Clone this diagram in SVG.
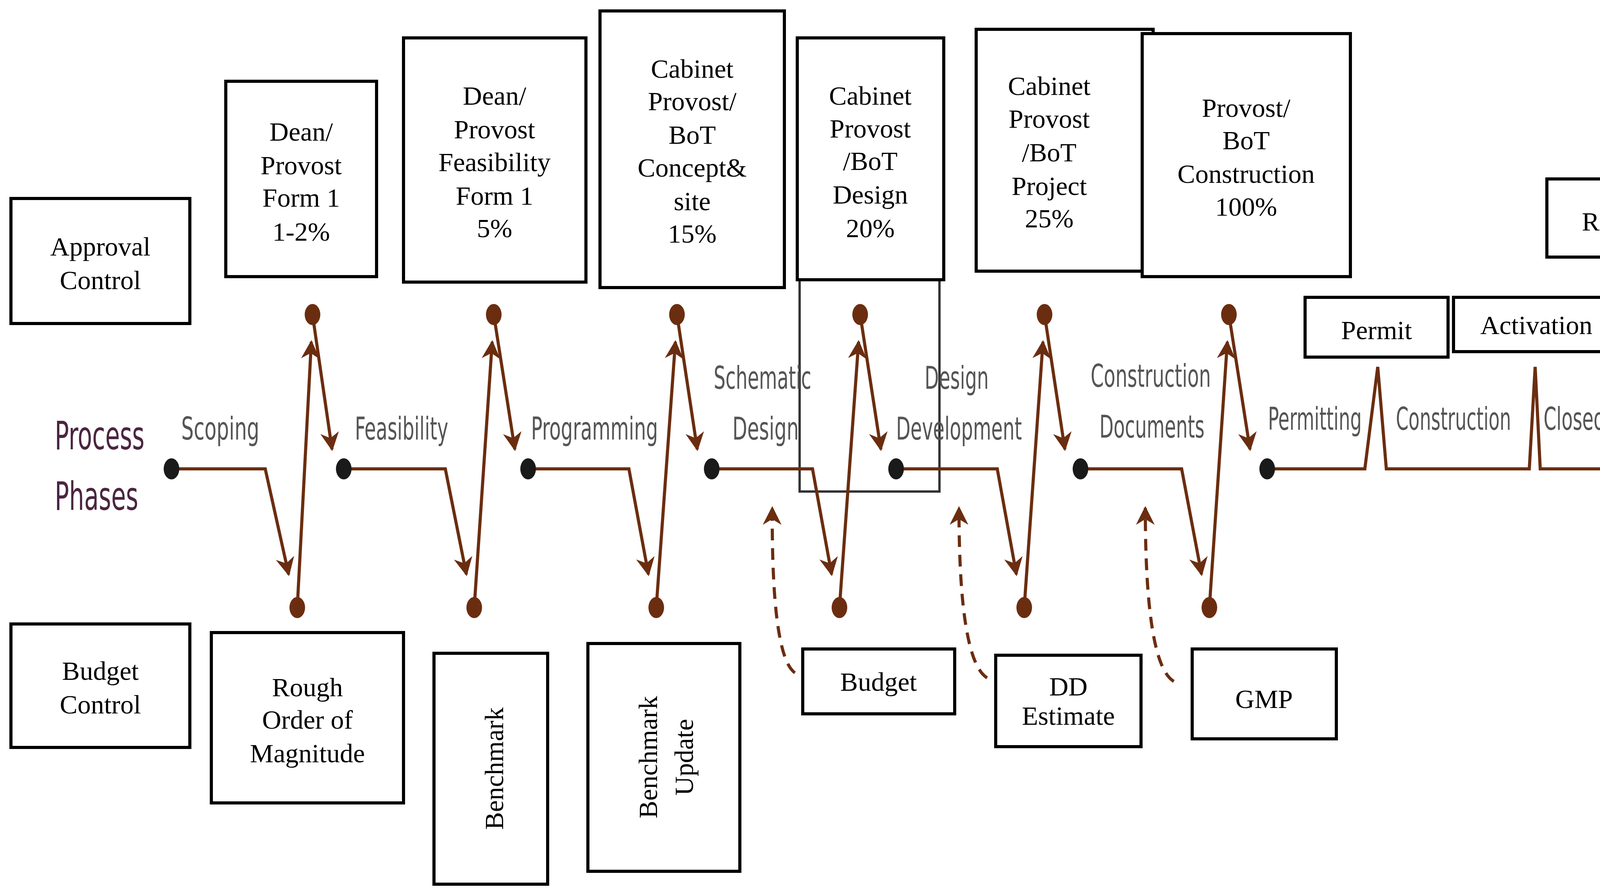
<svg xmlns="http://www.w3.org/2000/svg" width="4344" height="2283" viewBox="0 0 4344 2283">
<style>
.box{fill:#fff;stroke:#000;stroke-width:8}
.t{font-family:"Liberation Serif","DejaVu Serif",serif;font-size:68px;fill:#000;text-anchor:middle}
.ph{font-family:"DejaVu Sans Condensed","Liberation Sans",sans-serif;font-size:80px;fill:#555;text-anchor:middle}
.pp{font-family:"DejaVu Sans Condensed","Liberation Sans",sans-serif;font-size:100px;fill:#4a2540;text-anchor:middle}
.ln{fill:none;stroke:#6b2d10;stroke-width:8}
.ds{fill:none;stroke:#6b2d10;stroke-width:8;stroke-dasharray:30 20}
.bd{fill:#6b2d10}
.bk{fill:#1a1a1a}
</style>
<defs>
<marker id="ah" viewBox="0 0 10 10" refX="9" refY="5" markerWidth="6" markerHeight="6" markerUnits="strokeWidth" orient="auto"><path d="M0,0 L10,5 L0,10 L3,5 Z" fill="#6b2d10"/></marker>
</defs>
<rect width="4344" height="2283" fill="#fff"/>
<g id="connectors">
<rect x="2047" y="716" width="358" height="542" fill="none" stroke="#333" stroke-width="6"/>
<polyline class="ln" points="439,1200 679,1200 739,1470" marker-end="url(#ah)"/>
<line class="ln" x1="761" y1="1555" x2="797" y2="875" marker-end="url(#ah)"/>
<line class="ln" x1="800" y1="805" x2="850" y2="1150" marker-end="url(#ah)"/>
<polyline class="ln" points="880,1200 1140,1200 1194,1470" marker-end="url(#ah)"/>
<line class="ln" x1="1214" y1="1555" x2="1260" y2="875" marker-end="url(#ah)"/>
<line class="ln" x1="1264" y1="805" x2="1318" y2="1150" marker-end="url(#ah)"/>
<polyline class="ln" points="1352,1200 1610,1200 1660,1470" marker-end="url(#ah)"/>
<line class="ln" x1="1680" y1="1555" x2="1729" y2="875" marker-end="url(#ah)"/>
<line class="ln" x1="1733" y1="805" x2="1785" y2="1150" marker-end="url(#ah)"/>
<polyline class="ln" points="1822,1200 2080,1200 2129,1470" marker-end="url(#ah)"/>
<line class="ln" x1="2149" y1="1555" x2="2198" y2="875" marker-end="url(#ah)"/>
<line class="ln" x1="2202" y1="805" x2="2255" y2="1150" marker-end="url(#ah)"/>
<polyline class="ln" points="2294,1200 2553,1200 2602,1470" marker-end="url(#ah)"/>
<line class="ln" x1="2622" y1="1555" x2="2670" y2="875" marker-end="url(#ah)"/>
<line class="ln" x1="2674" y1="805" x2="2726" y2="1150" marker-end="url(#ah)"/>
<polyline class="ln" points="2766,1200 3025,1200 3076,1470" marker-end="url(#ah)"/>
<line class="ln" x1="3096" y1="1555" x2="3142" y2="875" marker-end="url(#ah)"/>
<line class="ln" x1="3146" y1="805" x2="3200" y2="1150" marker-end="url(#ah)"/>
<polyline class="ln" points="3244,1200 3494,1200 3527,939 3549,1200 3915,1200 3930,939 3943,1200 4179,1200 4179,785" marker-end="url(#ah)"/>
<path class="ds" d="M2035,1722 Q1975,1680 1977,1300" marker-end="url(#ah)"/>
<path class="ds" d="M2527,1735 Q2455,1690 2455,1300" marker-end="url(#ah)"/>
<path class="ds" d="M3005,1744 Q2932,1700 2932,1300" marker-end="url(#ah)"/>
<ellipse class="bk" cx="439" cy="1200" rx="20" ry="27"/>
<ellipse class="bk" cx="880" cy="1200" rx="20" ry="27"/>
<ellipse class="bk" cx="1352" cy="1200" rx="20" ry="27"/>
<ellipse class="bk" cx="1822" cy="1200" rx="20" ry="27"/>
<ellipse class="bk" cx="2294" cy="1200" rx="20" ry="27"/>
<ellipse class="bk" cx="2766" cy="1200" rx="20" ry="27"/>
<ellipse class="bk" cx="3244" cy="1200" rx="20" ry="27"/>
<ellipse class="bd" cx="800" cy="805" rx="20" ry="27"/>
<ellipse class="bd" cx="1264" cy="805" rx="20" ry="27"/>
<ellipse class="bd" cx="1733" cy="805" rx="20" ry="27"/>
<ellipse class="bd" cx="2202" cy="805" rx="20" ry="27"/>
<ellipse class="bd" cx="2674" cy="805" rx="20" ry="27"/>
<ellipse class="bd" cx="3146" cy="805" rx="20" ry="27"/>
<ellipse class="bd" cx="761" cy="1555" rx="20" ry="27"/>
<ellipse class="bd" cx="1214" cy="1555" rx="20" ry="27"/>
<ellipse class="bd" cx="1680" cy="1555" rx="20" ry="27"/>
<ellipse class="bd" cx="2149" cy="1555" rx="20" ry="27"/>
<ellipse class="bd" cx="2622" cy="1555" rx="20" ry="27"/>
<ellipse class="bd" cx="3096" cy="1555" rx="20" ry="27"/>
</g>
<g id="phases">
<text class="pp" x="255" y="1150" textLength="230" lengthAdjust="spacingAndGlyphs">Process</text>
<text class="pp" x="247" y="1305" textLength="214" lengthAdjust="spacingAndGlyphs">Phases</text>
<text class="ph" x="564" y="1125" textLength="200" lengthAdjust="spacingAndGlyphs">Scoping</text>
<text class="ph" x="1028" y="1125" textLength="239" lengthAdjust="spacingAndGlyphs">Feasibility</text>
<text class="ph" x="1522" y="1125" textLength="325" lengthAdjust="spacingAndGlyphs">Programming</text>
<text class="ph" x="1952" y="995" textLength="250" lengthAdjust="spacingAndGlyphs">Schematic</text>
<text class="ph" x="1960" y="1125" textLength="170" lengthAdjust="spacingAndGlyphs">Design</text>
<text class="ph" x="2449" y="995" textLength="164" lengthAdjust="spacingAndGlyphs">Design</text>
<text class="ph" x="2455" y="1125" textLength="322" lengthAdjust="spacingAndGlyphs">Development</text>
<text class="ph" x="2946" y="990" textLength="308" lengthAdjust="spacingAndGlyphs">Construction</text>
<text class="ph" x="2949" y="1120" textLength="269" lengthAdjust="spacingAndGlyphs">Documents</text>
<text class="ph" x="3366" y="1100" textLength="240" lengthAdjust="spacingAndGlyphs">Permitting</text>
<text class="ph" x="3721" y="1100" textLength="295" lengthAdjust="spacingAndGlyphs">Construction</text>
<text class="ph" x="4054" y="1100" textLength="205" lengthAdjust="spacingAndGlyphs">Closeout</text>
</g>
<g id="approval"><rect class="box" x="28" y="508" width="458" height="320"/><text class="t" x="257" y="654">Approval</text><text class="t" x="257" y="740">Control</text></g>
<g id="form1"><rect class="box" x="578" y="208" width="386" height="500"/><text class="t" x="771" y="360">Dean/</text><text class="t" x="771" y="446">Provost</text><text class="t" x="771" y="529">Form 1</text><text class="t" x="771" y="616">1-2%</text></g>
<g id="feas"><rect class="box" x="1033" y="97" width="467" height="625"/><text class="t" x="1266" y="268">Dean/</text><text class="t" x="1266" y="354">Provost</text><text class="t" x="1266" y="438">Feasibility</text><text class="t" x="1266" y="524">Form 1</text><text class="t" x="1266" y="607">5%</text></g>
<g id="concept"><rect class="box" x="1536" y="28" width="472" height="708"/><text class="t" x="1772" y="199">Cabinet</text><text class="t" x="1772" y="282">Provost/</text><text class="t" x="1772" y="368">BoT</text><text class="t" x="1772" y="452">Concept&amp;</text><text class="t" x="1772" y="538">site</text><text class="t" x="1772" y="621">15%</text></g>
<g id="design"><rect class="box" x="2041" y="97" width="375" height="619"/><text class="t" x="2228" y="268">Cabinet</text><text class="t" x="2228" y="352">Provost</text><text class="t" x="2228" y="435">/BoT</text><text class="t" x="2228" y="521">Design</text><text class="t" x="2228" y="607">20%</text></g>
<g id="project"><rect class="box" x="2499" y="75" width="453" height="619"/><text class="t" x="2686" y="243">Cabinet</text><text class="t" x="2686" y="327">Provost</text><text class="t" x="2686" y="413">/BoT</text><text class="t" x="2686" y="499">Project</text><text class="t" x="2686" y="582">25%</text></g>
<g id="construction"><rect class="box" x="2924" y="86" width="533" height="622"/><text class="t" x="3190" y="299">Provost/</text><text class="t" x="3190" y="382">BoT</text><text class="t" x="3190" y="468">Construction</text><text class="t" x="3190" y="552">100%</text></g>
<g id="report"><rect class="box" x="3960" y="458" width="364" height="200"/><text class="t" x="4142" y="590">Report</text></g>
<g id="permit"><rect class="box" x="3341" y="761" width="366" height="153"/><text class="t" x="3524" y="868">Permit</text></g>
<g id="activation"><rect class="box" x="3721" y="761" width="425" height="139"/><text class="t" x="3933" y="855" font-size="62">Activation</text></g>
<g id="budgetcontrol"><rect class="box" x="28" y="1597" width="458" height="316"/><text class="t" x="257" y="1740">Budget</text><text class="t" x="257" y="1826">Control</text></g>
<g id="rom"><rect class="box" x="541" y="1619" width="492" height="436"/><text class="t" x="787" y="1782">Rough</text><text class="t" x="787" y="1865">Order of</text><text class="t" x="787" y="1951">Magnitude</text></g>
<g id="benchmark"><rect class="box" x="1111" y="1672" width="291" height="591"/><text class="t" x="1288" y="1967" transform="rotate(-90 1288 1967)">Benchmark</text></g>
<g id="benchupdate"><rect class="box" x="1505" y="1647" width="389" height="583"/><text class="t" x="1682" y="1938" transform="rotate(-90 1682 1938)">Benchmark</text><text class="t" x="1774" y="1938" transform="rotate(-90 1774 1938)">Update</text></g>
<g id="budget"><rect class="box" x="2055" y="1661" width="389" height="166"/><text class="t" x="2249" y="1768">Budget</text></g>
<g id="dd"><rect class="box" x="2549" y="1677" width="372" height="234"/><text class="t" x="2735" y="1780" font-size="62">DD</text><text class="t" x="2735" y="1855" font-size="62">Estimate</text></g>
<g id="gmp"><rect class="box" x="3052" y="1661" width="369" height="230"/><text class="t" x="3236" y="1812" font-size="88">GMP</text></g>
</svg>
